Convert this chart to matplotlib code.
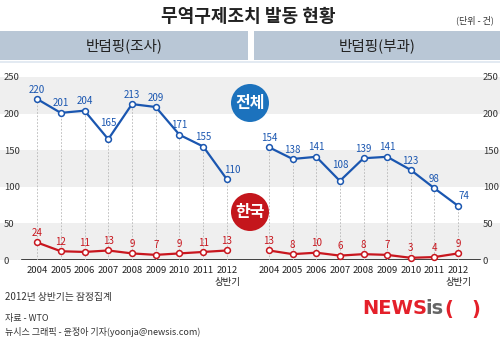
import numpy as np
import matplotlib.pyplot as plt
from matplotlib.patches import Rectangle, Ellipse

plt.rcParams['font.family'] = ['Noto Sans CJK KR', 'DejaVu Sans']

# data ########################################################################
years = ['2004', '2005', '2006', '2007', '2008', '2009', '2010', '2011', '2012\n상반기']
probe_total = [220, 201, 204, 165, 213, 209, 171, 155, 110]   # 반덤핑(조사) 전체
probe_korea = [24, 12, 11, 13, 9, 7, 9, 11, 13]               # 반덤핑(조사) 한국
duty_total = [154, 138, 141, 108, 139, 141, 123, 98, 74]      # 반덤핑(부과) 전체
duty_korea = [13, 8, 10, 6, 8, 7, 3, 4, 9]                    # 반덤핑(부과) 한국
yticks = [0, 50, 100, 150, 200, 250]

blue = '#1a56b0'
red = '#c8161e'
W, H = 500, 342

def fx(px):
    return px / W

def fy(py):
    return 1 - py / H

fig = plt.figure(figsize=(W / 100, H / 100), dpi=100)
fig.patch.set_facecolor('white')

#background bands over the full width
y0, y250 = 260, 77
bot, hgt = fy(y0), (y0 - y250) / H
axbg = fig.add_axes([0, bot, 1, hgt])
axbg.set_xlim(0, 1)
axbg.set_ylim(0, 250)
for lo in [0, 100, 200]:
    axbg.axhspan(lo, lo + 50, color='#efefef', lw=0)
axbg.axhline(0, xmin=fx(22), xmax=fx(480), color='#222222', lw=1.2)
axbg.axis('off')

def panel(left_px, right_px, first_px, last_px, total, korea, side):
    ax = fig.add_axes([fx(left_px), bot, (right_px - left_px) / W, hgt])
    step = (last_px - first_px) / 8
    ax.set_xlim(-(first_px - left_px) / step, 8 + (right_px - last_px) / step)
    ax.set_ylim(0, 250)
    ax.patch.set_alpha(0)
    for s in ax.spines.values():
        s.set_visible(False)
    x = np.arange(len(total))
    ax.vlines(x, 0, total, colors='#b5b5b5', linestyles=(0, (2, 2)), lw=0.6, zorder=1)
    for vals, col in [(total, blue), (korea, red)]:
        ax.plot(x, vals, color=col, lw=1.6, marker='o', ms=4.2, mfc='white',
                mec=col, mew=1.1, zorder=3, clip_on=False)
    #value labels: local minima pushed higher, last blue label nudged right
    for i, v in enumerate(total):
        dx, dy = 0, 6.8
        if i == 3:
            dy = 11.5
        if i == 8:
            dx = 4
        ax.annotate(str(v), (i, v), xytext=(dx, dy), textcoords='offset points',
                    ha='center', va='center', color=blue, fontsize=7)
    for i, v in enumerate(korea):
        ax.annotate(str(v), (i, v), xytext=(0, 6.8), textcoords='offset points',
                    ha='center', va='center', color=red, fontsize=7)
    ax.set_xticks(x)
    ax.set_xticklabels(years, fontsize=6.8, color='#222222', linespacing=1.5)
    ax.tick_params(axis='x', length=0, pad=4)
    ax.set_yticks(yticks)
    ax.set_yticklabels([str(t) for t in yticks], fontsize=6.8, color='#333333')
    if side == 'left':
        ax.tick_params(axis='y', length=0, pad=13, labelleft=True)
        for t in ax.get_yticklabels():
            t.set_horizontalalignment('left')
    else:
        ax.yaxis.tick_right()
        ax.tick_params(axis='y', length=0, pad=2)
    return ax

axl = panel(22, 245, 37, 227, probe_total, probe_korea, 'left')
axr = panel(255, 480, 269, 458, duty_total, duty_korea, 'right')

#title and header bars
fig.text(fx(248), fy(16), '무역구제조치 발동 현황', ha='center', va='center',
         fontsize=13, fontweight='bold', color='#222222')
fig.text(fx(494), fy(20), '(단위 - 건)', ha='right', va='center', fontsize=6.5,
         color='#333333')
fig.add_artist(Rectangle((0, fy(60)), fx(248), 29 / H, transform=fig.transFigure,
                         color='#b9c7d6', lw=0))
fig.add_artist(Rectangle((fx(254), fy(60)), fx(246), 29 / H, transform=fig.transFigure,
                         color='#b9c7d6', lw=0))
fig.add_artist(Rectangle((0, fy(63)), 1, 2 / H, transform=fig.transFigure,
                         color='#e3eaf2', lw=0))
fig.text(fx(124), fy(46), '반덤핑(조사)', ha='center', va='center', fontsize=10.5,
         color='#222222')
fig.text(fx(377), fy(46), '반덤핑(부과)', ha='center', va='center', fontsize=10.5,
         color='#222222')

#legend circles
for cy, label, col in [(103, '전체', '#1c72bd'), (212, '한국', '#c4161c')]:
    fig.add_artist(Ellipse((fx(250), fy(cy)), 38 / W, 38 / H, transform=fig.transFigure,
                           color=col, lw=0, zorder=5))
    fig.text(fx(250), fy(cy), label, ha='center', va='center', fontsize=11.5,
             fontweight='bold', color='white', zorder=6)

#footnotes
fig.text(fx(5), fy(297), '2012년 상반기는 잠정집계', ha='left', va='center',
         fontsize=7, color='#333333')
fig.text(fx(5), fy(319), '자료 - WTO', ha='left', va='center', fontsize=6.5,
         color='#333333')
fig.text(fx(5), fy(332), '뉴시스 그래픽 - 윤정아 기자(yoonja@newsis.com)', ha='left',
         va='center', fontsize=6.5, color='#333333')

#logo, each piece chained to the right edge of the previous one
logo_kw = dict(fontsize=14, fontweight='bold', family='DejaVu Sans', va='center',
               annotation_clip=False)
logo_news = plt.annotate('NEWS', xy=(fx(362), fy(309)), xycoords='figure fraction',
                         ha='left', color='#e4202a', **logo_kw)
logo_is = plt.annotate('is', xy=(1, 0.5), xycoords=logo_news, xytext=(-1, 0),
                       textcoords='offset points', ha='left', color='#666666', **logo_kw)
logo_open = plt.annotate('(', xy=(1, 0.5), xycoords=logo_is, xytext=(0.5, 0),
                         textcoords='offset points', ha='left', color='#e4202a', **logo_kw)
plt.annotate(')', xy=(1, 0.5), xycoords=logo_open, xytext=(13, 0),
             textcoords='offset points', ha='left', color='#e4202a', **logo_kw)

fig.savefig('out.png', dpi=100)
